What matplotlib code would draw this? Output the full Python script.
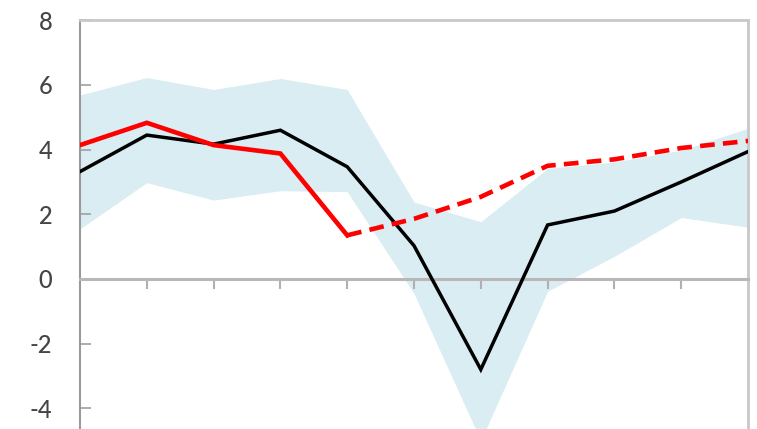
import numpy as np
import matplotlib.pyplot as plt

plt.rcParams['font.family'] = ['Lato', 'DejaVu Sans']

# periods along the x axis (11 points, ticks between the ends)
periods = list(range(11))

# range band
band_low = [1.55, 2.98, 2.44, 2.73, 2.70, -0.45, -5.0, -0.38, 0.70, 1.90, 1.60]
band_high = [5.69, 6.23, 5.86, 6.20, 5.86, 2.38, 1.77, 3.42, 3.62, 3.98, 4.66]

# central estimate
black_vals = [3.32, 4.45, 4.17, 4.60, 3.47, 1.03, -2.80, 1.67, 2.10, 3.00, 3.94]

# red series: outturn, then projection from period 4
red_hist = [4.14, 4.83, 4.14, 3.88, 1.35]
red_proj = [1.35, 1.86, 2.54, 3.50, 3.70, 4.05, 4.27]

yticks = [-4, -2, 0, 2, 4, 6, 8]

fig = plt.figure(figsize=(7.57, 4.29), dpi=100)
top = 20.3 / 429
ax = fig.add_axes([80 / 757, 0, 668 / 757, 1 - top])

ax.fill_between(periods, band_low, band_high, color='#daedf3', lw=0, zorder=1)
ax.plot(periods, black_vals, color='black', lw=2.5, zorder=4,
        solid_joinstyle='miter')
ax.plot(periods[:5], red_hist, color='#ff0000', lw=3.3, zorder=5,
        solid_joinstyle='miter')
ax.plot(periods[4:], red_proj, color='#ff0000', lw=3.3, zorder=5,
        dashes=(3.2, 1.8), dash_capstyle='butt')

ax.set_xlim(0, 10)
ax.set_ylim(-4.64, 8)

# x axis sits on zero, ticks hang below it
ax.spines['bottom'].set_position(('data', 0))
ax.spines['bottom'].set_color('#b8b8b8')
ax.spines['bottom'].set_linewidth(2.2)
ax.spines['bottom'].set_zorder(3)
ax.spines['left'].set_color('#9a9a9a')
ax.spines['left'].set_linewidth(1.5)
for side in ['top', 'right']:
    ax.spines[side].set_color('#c8c8c8')
    ax.spines[side].set_linewidth(2.0)

ax.set_xticks(range(1, 10))
ax.set_xticklabels([])
ax.tick_params(axis='x', direction='out', length=7, width=1.5, color='#b0b0b0')

ax.set_yticks(yticks)
ax.set_yticklabels([str(v) for v in yticks])
ax.tick_params(axis='y', direction='in', length=8, width=1.2, color='#a0a0a0',
               labelsize=17, labelcolor='#454545', pad=20)
for lab in ax.get_yticklabels():
    lab.set_fontweight('medium')

fig.savefig('out.png', dpi=100)
